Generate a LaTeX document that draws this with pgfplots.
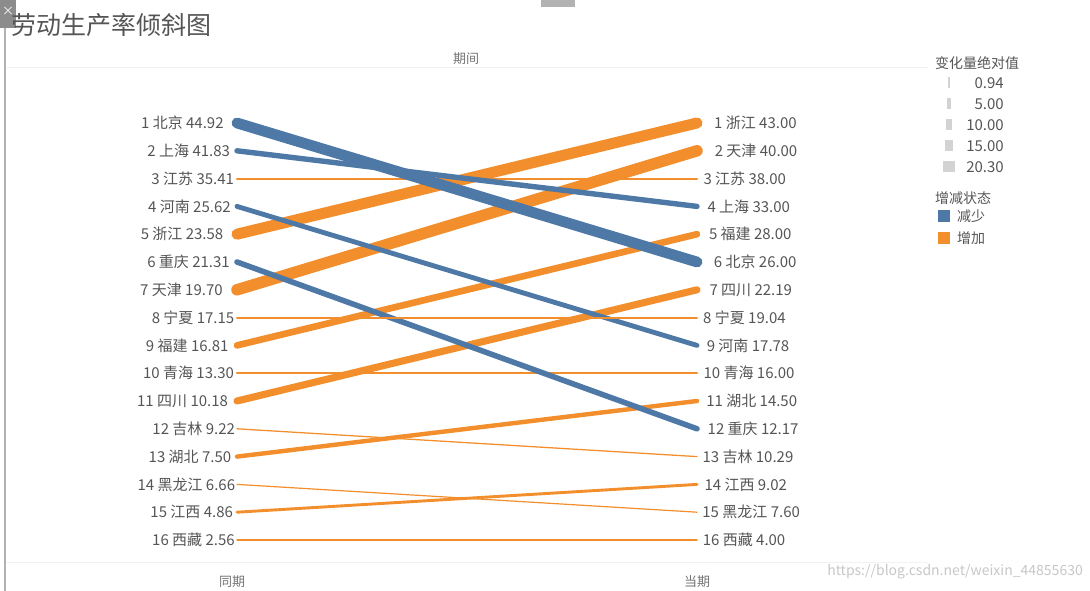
\documentclass[border=0pt]{standalone}
\usepackage{pgfplots}
\pgfplotsset{compat=1.18}
\usepackage{fontspec}
\setmainfont{Noto Sans CJK SC}
\definecolor{tblue}{HTML}{4E79A7}
\definecolor{torange}{HTML}{F28E2B}
\definecolor{lab}{HTML}{555555}
\definecolor{sw}{HTML}{D3D3D3}
\tikzset{
  lbl/.style={text=lab, font=\fontsize{15}{15}\selectfont, inner sep=0pt, outer sep=0pt},
  L/.style={pos=0, anchor=east, lbl, xshift=-#1pt},
  R/.style={pos=1, anchor=west, lbl, xshift=#1pt},
}
\begin{document}
\begin{tikzpicture}[x=1pt,y=1pt]
\path[use as bounding box] (0,0) rectangle (1090,591);
% faint separators
\draw[black!5, line width=0.8pt] (6,524) -- (928,524);
\draw[black!5, line width=0.8pt] (6,29) -- (928,29);
% window frame bits
\draw[black!30, line width=1.5pt] (5,0) -- (5,591);
\fill[black!45] (0,563) rectangle (16,591);
\node[text=white, font=\fontsize{12}{12}\selectfont, inner sep=0pt] at (8,580) {×};
\fill[black!30] (541,584) rectangle (575,591);
% title
\node[anchor=west, text=lab, font=\fontsize{25}{25}\selectfont, inner sep=0pt] at (11,566) {劳动生产率倾斜图};
% header / footer labels
\node[text=black!55, font=\fontsize{13}{13}\selectfont, inner sep=0pt] at (466,532) {期间};
\node[text=black!55, font=\fontsize{13}{13}\selectfont, inner sep=0pt] at (232,9) {同期};
\node[text=black!55, font=\fontsize{13}{13}\selectfont, inner sep=0pt] at (697,9) {当期};

\begin{axis}[at={(237pt,51pt)}, anchor=south west, scale only axis,
  width=460pt, height=417pt, xmin=0, xmax=1, ymin=1, ymax=16, y dir=reverse,
  axis lines=none, clip=false,
  every axis plot/.append style={line cap=round, no markers}]
% increases (orange)
\addplot[torange, line width=2.08pt] coordinates {(0,3) (1,3)} node[L=3.0]{3 江苏 35.41} node[R=6.5]{3 江苏 38.00};
\addplot[torange, line width=11.03pt] coordinates {(0,5) (1,1)} node[L=13.7]{5 浙江 23.58} node[R=17.2]{1 浙江 43.00};
\addplot[torange, line width=11.50pt] coordinates {(0,7) (1,2)} node[L=14.3]{7 天津 19.70} node[R=17.8]{2 天津 40.00};
\addplot[torange, line width=6.65pt] coordinates {(0,9) (1,5)} node[L=8.5]{9 福建 16.81} node[R=12.0]{5 福建 28.00};
\addplot[torange, line width=2.14pt] coordinates {(0,10) (1,10)} node[L=3.1]{10 青海 13.30} node[R=6.6]{10 青海 16.00};
\addplot[torange, line width=7.09pt] coordinates {(0,11) (1,7)} node[L=9.0]{11 四川 10.18} node[R=12.5]{7 四川 22.19};
\addplot[torange, line width=1.27pt] coordinates {(0,12) (1,13)} node[L=2.0]{12 吉林 9.22} node[R=5.5]{13 吉林 10.29};
\addplot[torange, line width=4.42pt] coordinates {(0,13) (1,11)} node[L=5.8]{13 湖北 7.50} node[R=9.3]{11 湖北 14.50};
\addplot[torange, line width=1.20pt] coordinates {(0,14) (1,15)} node[L=1.9]{14 黑龙江 6.66} node[R=5.4]{15 黑龙江 7.60};
\addplot[torange, line width=2.91pt] coordinates {(0,15) (1,14)} node[L=4.0]{15 江西 4.86} node[R=7.5]{14 江西 9.02};
\addplot[torange, line width=1.47pt] coordinates {(0,16) (1,16)} node[L=2.3]{16 西藏 2.56} node[R=5.8]{16 西藏 4.00};
% decreases (blue)
\addplot[tblue, line width=5.40pt] coordinates {(0,2) (1,4)} node[L=7.0]{2 上海 41.83} node[R=10.5]{4 上海 33.00};
\addplot[tblue, line width=4.87pt] coordinates {(0,4) (1,9)} node[L=6.3]{4 河南 25.62} node[R=9.8]{9 河南 17.78};
\addplot[tblue, line width=5.56pt] coordinates {(0,6) (1,12)} node[L=7.2]{6 重庆 21.31} node[R=10.7]{12 重庆 12.17};
\addplot[tblue, line width=10.77pt] coordinates {(0,1) (1,6)} node[L=13.4]{1 北京 44.92} node[R=16.9]{6 北京 26.00};
% Ningxia (kept on top)
\addplot[color=torange, line width=2.0pt] coordinates {(0,8.0) (1,8.0)} node[L=2.7]{8 宁夏 17.15} node[R=6.2]{8 宁夏 19.04};
\end{axis}

% legend: size
\node[anchor=west, text=lab, font=\fontsize{14}{14}\selectfont, inner sep=0pt] at (935,528) {变化量绝对值};
\foreach \yy/\ww/\lbltext in {508/1.2/0.94, 487/3.4/5.00, 466/6.0/10.00, 445/8.7/15.00, 424/11.5/20.30}{
  \fill[sw] (949-\ww/2,\yy-5.5) rectangle (949+\ww/2,\yy+5.5);
  \node[anchor=east, text=lab, font=\fontsize{15}{15}\selectfont, inner sep=0pt] at (1004,\yy) {\lbltext};
}
% legend: colour
\node[anchor=west, text=lab, font=\fontsize{14}{14}\selectfont, inner sep=0pt] at (935,393) {增减状态};
\fill[tblue] (938,369) rectangle (950,381);
\node[anchor=west, text=lab, font=\fontsize{14}{14}\selectfont, inner sep=0pt] at (957,375) {减少};
\fill[torange] (938,347) rectangle (950,359);
\node[anchor=west, text=lab, font=\fontsize{14}{14}\selectfont, inner sep=0pt] at (957,353) {增加};
% watermark
\node[anchor=east, text=black!22, font=\fontsize{14}{14}\selectfont, inner sep=0pt] at (1083,19) {https://blog.csdn.net/weixin\_44855630};
\end{tikzpicture}
\end{document}
